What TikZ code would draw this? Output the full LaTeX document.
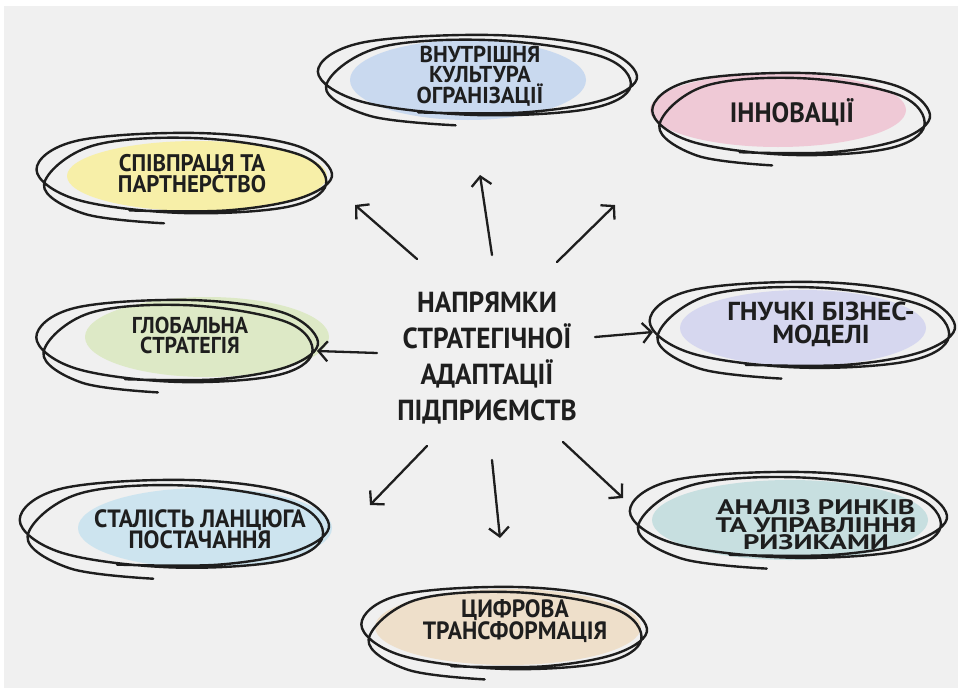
\documentclass[tikz,border=0pt]{standalone}
\usepackage{fontspec}
\newfontfamily\hA{PT Sans}[FakeStretch=0.95]
\newfontfamily\hE{PT Sans}[FakeStretch=0.99]
\newfontfamily\hB{PT Sans}[FakeStretch=0.94]
\newfontfamily\hC{PT Sans}[FakeStretch=1.05]
\newfontfamily\hD{PT Sans}[FakeStretch=1.36]
\usetikzlibrary{arrows.meta}
\definecolor{bgc}{HTML}{F0F0F0}
\definecolor{ink}{HTML}{1E1E1E}
\definecolor{cblue}{HTML}{C9D9EF}
\definecolor{cyellow}{HTML}{F7EFA8}
\definecolor{cpink}{HTML}{EFC9D6}
\definecolor{cgreen}{HTML}{DDE9C6}
\definecolor{clav}{HTML}{D6D7EF}
\definecolor{csky}{HTML}{CDE4EF}
\definecolor{cteal}{HTML}{C7DFE0}
\definecolor{cbeige}{HTML}{EEDFCA}
\tikzset{
  scr/.style={draw=ink, line width=2.4pt, line cap=round, line join=round},
  scrib/.pic={
    \draw[scr] plot[smooth, tension=0.6] coordinates {(-0.35,0.8) (0.3,0.8) (0.8,0.5) (1.0,-0.05) (0.75,-0.72) (0.1,-1.0) (-0.7,-0.82) (-0.97,-0.15) (-0.7,0.55) (0.0,0.86) (0.7,0.72) (0.96,0.2) (0.78,-0.5) (0.1,-0.88) (-0.6,-0.7) (-0.92,0.2) (-0.65,0.88) (-0.12,1.1)};
  },
  lbl/.style={text=ink, align=center, inner sep=0pt},
  arr/.style={draw=ink, line width=2.3pt, line cap=round, -{Straight Barb[length=9pt,width=20pt]}}
}
\begin{document}
\begin{tikzpicture}[x=1pt,y=-1pt]
\useasboundingbox (0,0) rectangle (958,688);
\fill[white] (0,0) rectangle (958,688);
\fill[bgc] (4,6) rectangle (958,688);
% colour blobs
\fill[cblue]   (468,80)  ellipse [x radius=118, y radius=40];
\fill[cyellow] (197,176) ellipse [x radius=130, y radius=35];
\fill[cpink]   (778,110) ellipse [x radius=128, y radius=37];
\fill[cgreen]  (207,337) ellipse [x radius=122, y radius=40];
\fill[clav]    (803,328) ellipse [x radius=123, y radius=38];
\fill[csky]    (205,528) ellipse [x radius=127, y radius=40];
\fill[cteal]   (790,520) ellipse [x radius=138, y radius=40];
\fill[cbeige]  (508,627) ellipse [x radius=133, y radius=38];
% scribbles
\pic[xscale=162,yscale=43] at (475,78)  {scrib};
\pic[xscale=150,yscale=43] at (182,176) {scrib};
\pic[xscale=141,yscale=44] at (789,117) {scrib};
\pic[xscale=143,yscale=44] at (175,344) {scrib};
\pic[xscale=155,yscale=46] at (800,328) {scrib};
\pic[xscale=157,yscale=47] at (172,527) {scrib};
\pic[xscale=161,yscale=46] at (786,518) {scrib};
\pic[xscale=145,yscale=44] at (502,631) {scrib};
% labels
\node[lbl,font=\hB\bfseries\fontsize{29}{36.3}\selectfont] (c) at (487,358) {НАПРЯМКИ\\СТРАТЕГІЧНОЇ\\АДАПТАЦІЇ\\ПІДПРИЄМСТВ};
\node[lbl,font=\hE\bfseries\fontsize{23}{20.5}\selectfont] (n1) at (480,76) {ВНУТРІШНЯ\\КУЛЬТУРА\\ОГРАНІЗАЦІЇ};
\node[lbl,font=\hA\bfseries\fontsize{24}{19.5}\selectfont] (n2) at (192,174) {СПІВПРАЦЯ ТА\\ПАРТНЕРСТВО};
\node[lbl,font=\hB\bfseries\fontsize{28}{20}\selectfont] (n3) at (792,112) {ІННОВАЦІЇ};
\node[lbl,font=\hA\bfseries\fontsize{23}{20}\selectfont] (n4) at (190,335) {ГЛОБАЛЬНА\\СТРАТЕГІЯ};
\node[lbl,font=\hC\bfseries\fontsize{26}{23}\selectfont] (n5) at (821,324) {ГНУЧКІ БІЗНЕС-\\МОДЕЛІ};
\node[lbl,font=\hA\bfseries\fontsize{25}{21.5}\selectfont] (n6) at (200,529) {СТАЛІСТЬ ЛАНЦЮГА\\ПОСТАЧАННЯ};
\node[lbl,font=\hD\bfseries\fontsize{21}{17.5}\selectfont] (n7) at (816,525) {АНАЛІЗ РИНКІВ\\ТА УПРАВЛІННЯ\\РИЗИКАМИ};
\node[lbl,font=\hB\bfseries\fontsize{25}{22}\selectfont] (n8) at (515,621) {ЦИФРОВА\\ТРАНСФОРМАЦІЯ};
% arrow end points
\coordinate (s1) at (417,259); \coordinate (e1) at (355,205);
\coordinate (s2) at (492,255); \coordinate (e2) at (480,175);
\coordinate (s3) at (557,262); \coordinate (e3) at (615,205);
\coordinate (s4) at (595,337); \coordinate (e4) at (653,332);
\coordinate (s5) at (377,353); \coordinate (e5) at (317,351);
\coordinate (s6) at (427,446); \coordinate (e6) at (370,505);
\coordinate (s7) at (492,460); \coordinate (e7) at (500,538);
\coordinate (s8) at (563,442); \coordinate (e8) at (623,498);
\foreach \i in {1,...,8} {\draw[arr] (s\i) -- (e\i);}
\end{tikzpicture}
\end{document}
